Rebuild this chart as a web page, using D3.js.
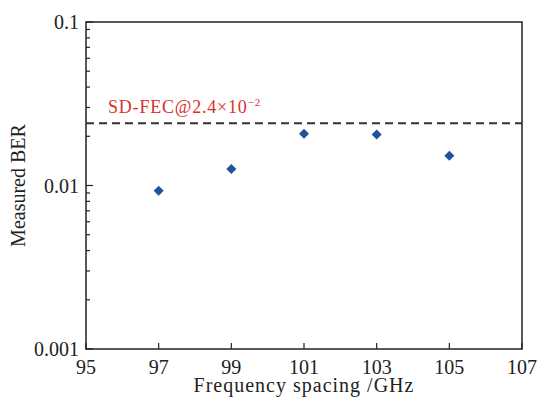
<!DOCTYPE html>
<html>
<head>
<meta charset="utf-8">
<script src="https://cdn.jsdelivr.net/npm/d3@7"></script>
<style>
  body { margin: 0; background: #fff; }
  text { font-family: "Liberation Serif", "DejaVu Serif", serif; }
</style>
</head>
<body>
<svg width="542" height="400"></svg>
<script>
var spacing = [97, 99, 101, 103, 105];
var ber = [0.0093, 0.0126, 0.0207, 0.0205, 0.0152];
var threshold = 0.024;
var xTicks = [95, 97, 99, 101, 103, 105, 107];
var yTicks = [0.001, 0.01, 0.1];
var yTickLabels = ['0.001', '0.01', '0.1'];

var svg = d3.select('svg');
var margin = {left: 86, right: 20, top: 22, bottom: 51};
var width = 542, height = 400;
var innerWidth = width - margin.left - margin.right;
var innerHeight = height - margin.top - margin.bottom;

var xscale = d3.scaleLinear().domain([95, 107]).range([0, innerWidth]);
var yscale = d3.scaleLog().domain([0.001, 0.1]).range([innerHeight, 0]);

var g = svg.append('g').attr('transform', `translate(${margin.left},${margin.top})`);

// minor ticks on log axis
var minor = [];
[0.001, 0.01].forEach(function(d) {
  for (var k = 2; k <= 9; k++) minor.push(d * k);
});

g.selectAll('.minor').data(minor).enter().append('line')
  .attr('x1', 0).attr('x2', 4)
  .attr('y1', d => yscale(d)).attr('y2', d => yscale(d))
  .attr('stroke', '#222').attr('stroke-width', 1.2);

g.selectAll('.major').data(yTicks).enter().append('line')
  .attr('x1', 0).attr('x2', 7)
  .attr('y1', d => yscale(d)).attr('y2', d => yscale(d))
  .attr('stroke', '#222').attr('stroke-width', 1.2);

g.selectAll('.ylab').data(yTicks).enter().append('text')
  .attr('x', -7).attr('y', d => yscale(d)).attr('dy', '0.35em')
  .attr('text-anchor', 'end').attr('font-size', 20).attr('fill', '#222')
  .text((d, i) => yTickLabels[i]);

g.selectAll('.xtick').data(xTicks).enter().append('line')
  .attr('x1', d => xscale(d)).attr('x2', d => xscale(d))
  .attr('y1', innerHeight).attr('y2', innerHeight - 6)
  .attr('stroke', '#222').attr('stroke-width', 1.2);

g.selectAll('.xlab').data(xTicks).enter().append('text')
  .attr('x', d => xscale(d)).attr('y', innerHeight + 25)
  .attr('text-anchor', 'middle').attr('font-size', 20).attr('fill', '#222')
  .text(d => d);

// frame
g.append('rect').attr('width', innerWidth).attr('height', innerHeight)
  .attr('fill', 'none').attr('stroke', '#222').attr('stroke-width', 1.5);

// threshold
g.append('line')
  .attr('x1', 0).attr('x2', innerWidth)
  .attr('y1', yscale(threshold)).attr('y2', yscale(threshold))
  .attr('stroke', '#333').attr('stroke-width', 2).attr('stroke-dasharray', '8,5');

var lab = g.append('text').attr('x', 22).attr('y', yscale(threshold) - 10)
  .attr('font-size', 18).attr('letter-spacing', 0.8).attr('fill', '#d9302c');
lab.append('tspan').text('SD-FEC@2.4\u00d710');
lab.append('tspan').attr('dy', -7).attr('font-size', 11).text('\u22122');

// points
g.selectAll('.pt').data(spacing).enter().append('path')
  .attr('d', d3.symbol().type(d3.symbolDiamond2).size(64))
  .attr('transform', (d, i) => `translate(${xscale(d)},${yscale(ber[i])})`)
  .attr('fill', '#24519c');

// axis titles
svg.append('text').attr('x', margin.left + innerWidth / 2).attr('y', 392)
  .attr('text-anchor', 'middle').attr('font-size', 20).attr('letter-spacing', 1)
  .attr('fill', '#222')
  .text('Frequency spacing /GHz');

svg.append('text')
  .attr('transform', `translate(25,${margin.top + innerHeight / 2}) rotate(-90)`)
  .attr('text-anchor', 'middle').attr('font-size', 20).attr('fill', '#222')
  .text('Measured BER');
</script>
</body>
</html>
